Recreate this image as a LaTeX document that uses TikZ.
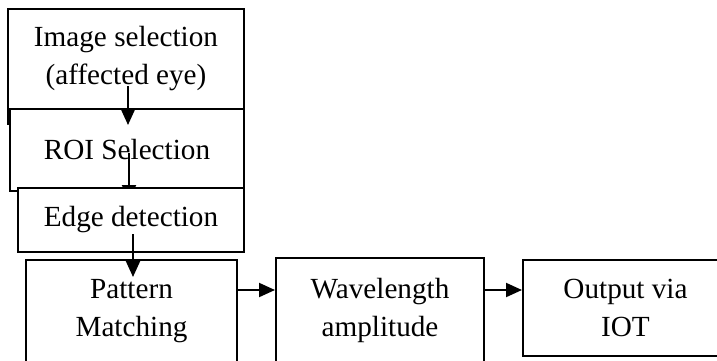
\documentclass[tikz,border=0pt]{standalone}
\usepackage{fontspec}
\setmainfont{Liberation Serif}
\usetikzlibrary{arrows.meta}

\begin{document}
\begin{tikzpicture}[x=0.5pt, y=-0.5pt, font=\fontsize{14.6}{19}\selectfont]
  \tikzset{box/.style={draw, fill=white, line width=1pt, anchor=north west, align=center, inner sep=0pt},
           arr/.style={line width=1pt, -{Triangle[length=8pt,width=7pt]}}}
  \useasboundingbox (0,0) rectangle (717,360);
  \node[box, minimum width=118pt, minimum height=57.5pt, text depth=11.5pt] (img) at (7,8) {Image selection\\(affected eye)};
  \node[box, minimum width=117pt, minimum height=41pt] (roi) at (9,108) {ROI Selection};
  \draw[arr] ([xshift=1pt, yshift=19.5pt]img.south) -- ([xshift=1pt]img.south);
  \draw[arr] ([xshift=1pt, yshift=-1.5pt]roi.center) -- ([xshift=1pt, yshift=-4.5pt]roi.south);
  \node[box, minimum width=113pt, minimum height=32pt] (edge) at (17,187) {Edge detection};
  \node[box, minimum width=105.5pt, minimum height=51pt] (match) at (25,259) {Pattern\\Matching};
  \draw[arr] ([xshift=1pt, yshift=9.5pt]edge.south) -- ([xshift=0.75pt, yshift=-9pt]match.north);
  \node[box, minimum width=104pt, minimum height=52.5pt] (wave) at (275,257) {Wavelength\\amplitude};
  \node[box, minimum width=102.5pt, minimum height=48pt] (iot) at (522,259) {Output via\\IOT};
  \draw[arr] ([yshift=-15.5pt]match.north east) -- ([yshift=-16.5pt]wave.north west);
  \draw[arr] ([yshift=-16.5pt]wave.north east) -- ([yshift=-15.5pt]iot.north west);
\end{tikzpicture}
\end{document}
